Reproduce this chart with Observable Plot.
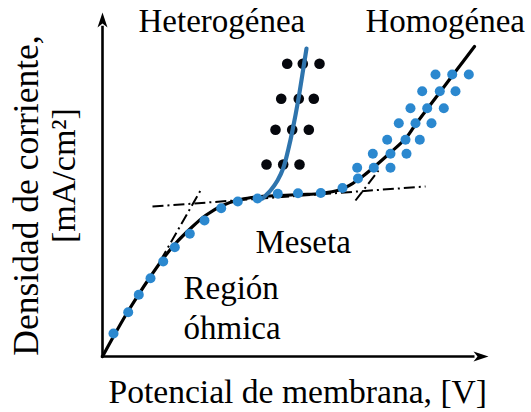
<!DOCTYPE html>
<html>
<head>
<meta charset="utf-8">
<script src="https://cdn.jsdelivr.net/npm/d3@7"></script>
<script src="https://cdn.jsdelivr.net/npm/@observablehq/plot@0.6"></script>
<style>
  html, body { margin: 0; padding: 0; background: #fff; }
  svg { display: block; overflow: visible; }
</style>
</head>
<body>
<div id="chart"></div>
<script>
// Arbitrary units (no tick values on the original axes): potential 0–100, current density 0–100
const mainDotsX = [2.85, 6.66, 9.40, 12.44, 15.73, 18.73, 22.62, 26.42, 30.75, 35.05, 40.16, 45.41, 50.65, 56.55, 62.18, 66.19];
const mainDotsY = [6.69, 12.88, 17.94, 22.76, 27.62, 31.77, 35.67, 39.53, 43.11, 45.06, 45.93, 47.30, 47.47, 47.53, 48.98, 51.74];

const homRowsY = [54.85, 58.92, 63.0, 67.82, 72.18, 77.12, 81.98];
const homRowsX = [
  [65.98, 70.28, 74.61], [70.03, 74.61, 78.76], [73.76, 78.50, 82.20], [76.76, 81.09, 85.23],
  [79.79, 84.12, 88.42], [82.82, 87.38, 91.45], [86.27, 90.60, 94.90]
];

const hetRowsY = [55.81, 65.90, 74.91, 85.09];
const hetRowsX = [[42.49, 46.81, 51.04], [44.82, 49.15, 53.45], [46.30, 50.85, 54.74], [47.85, 51.89, 56.22]];

const fitX = [0, 2.85, 5.96, 9.33, 12.44, 15.54, 18.91, 22.80, 26.68, 31.09, 35.75, 40.93, 46.11, 51.30, 56.48, 61.66, 64.77, 67.36, 70.21, 74.61, 78.50, 81.09, 84.20, 87.56, 91.45, 96.37];
const fitY = [0, 5.81, 11.92, 18.02, 23.26, 28.20, 32.85, 37.21, 40.99, 43.90, 45.64, 46.51, 46.80, 47.09, 47.38, 48.55, 50.29, 52.33, 54.94, 59.30, 63.37, 67.44, 72.09, 77.03, 82.85, 90.12];

const hetLineX = [41.45, 43.52, 45.34, 46.89, 48.19, 49.22, 50.78, 52.07, 52.85];
const hetLineY = [45.93, 48.26, 51.16, 54.94, 60.47, 65.70, 75.0, 84.01, 89.53];

const tangentNames = ["ohmic", "plateau", "homog"];
const tangentX1 = [15.03, 12.95, 65.54];
const tangentY1 = [27.91, 43.60, 45.35];
const tangentX2 = [25.39, 83.68, 71.50];
const tangentY2 = [48.26, 49.42, 54.07];

const labels = ["Heterogénea", "Homogénea", "Meseta", "Región", "óhmica"];
const labelX = [9.33, 68.13, 39.64, 20.98, 20.98];
const labelY = [94.19, 94.19, 30.23, 16.86, 5.23];

const xTitle = "Potencial de membrana, [V]";
const yTitle1 = "Densidad de corriente,";
const yTitle2 = "[mA/cm²]";

// build tables
const mainDots = mainDotsX.map((x, i) => ({x, y: mainDotsY[i]}));
const homDots = homRowsY.flatMap((y, r) => homRowsX[r].map(x => ({x, y})));
const hetDots = hetRowsY.flatMap((y, r) => hetRowsX[r].map(x => ({x, y})));
const fit = fitX.map((x, i) => ({x, y: fitY[i]}));
const hetLine = hetLineX.map((x, i) => ({x, y: hetLineY[i]}));
const tangents = tangentNames.map((n, i) => ({n, x1: tangentX1[i], y1: tangentY1[i], x2: tangentX2[i], y2: tangentY2[i]}));
const labelData = labels.map((t, i) => ({t, x: labelX[i], y: labelY[i]}));

const arrowHead = {
  draw(ctx) {
    ctx.moveTo(0, 0);
    ctx.lineTo(5, 15);
    ctx.lineTo(0, 11);
    ctx.lineTo(-5, 15);
    ctx.closePath();
  }
};

const FONT = "Liberation Serif";
const BLUE = "#2b88cf";
const BLUE_LINE = "#2e74ad";

const chart = Plot.plot({
  width: 531,
  height: 412,
  marginLeft: 102,
  marginRight: 43,
  marginTop: 12,
  marginBottom: 56,
  x: {domain: [0, 100], axis: null},
  y: {domain: [0, 100], axis: null},
  marks: [
    // axes
    Plot.ruleX([0], {y1: 0, y2: 96, stroke: "#000", strokeWidth: 2.6}),
    Plot.ruleY([0], {x1: -0.3, x2: 96.5, stroke: "#000", strokeWidth: 2.6}),
    Plot.dot([{x: 0, y: 100}], {x: "x", y: "y", symbol: arrowHead, r: 1, fill: "#000", stroke: "none"}),
    Plot.dot([{x: 100, y: 0}], {x: "x", y: "y", symbol: arrowHead, r: 1, fill: "#000", stroke: "none", rotate: 90}),
    // dash-dot construction lines
    Plot.link(tangents, {x1: "x1", y1: "y1", x2: "x2", y2: "y2", stroke: "#000", strokeWidth: 2, strokeDasharray: "11,4,2,4"}),
    // fitted black curve
    Plot.line(fit, {x: "x", y: "y", curve: "catmull-rom", stroke: "#000", strokeWidth: 3.2}),
    // heterogeneous black dots
    Plot.dot(hetDots, {x: "x", y: "y", r: 5.3, fill: "#05070d", stroke: "none"}),
    // heterogeneous blue curve
    Plot.line(hetLine, {x: "x", y: "y", curve: "catmull-rom", stroke: BLUE_LINE, strokeWidth: 4.2}),
    // blue measured dots
    Plot.dot(mainDots, {x: "x", y: "y", r: 5, fill: BLUE, stroke: "none"}),
    Plot.dot(homDots, {x: "x", y: "y", r: 5, fill: BLUE, stroke: "none"}),
    // annotations
    Plot.text(labelData, {x: "x", y: "y", text: "t", textAnchor: "start", lineAnchor: "bottom", fontSize: 33, fontFamily: FONT, fill: "#000"}),
    // axis titles
    Plot.text([xTitle], {x: 1.55, y: -13.4, text: d => d, textAnchor: "start", lineAnchor: "bottom", fontSize: 33.6, fontFamily: FONT, fill: "#000"}),
    Plot.text([yTitle1], {x: -16.8, y: 46.8, text: d => d, rotate: -90, textAnchor: "middle", lineAnchor: "bottom", fontSize: 35.5, fontFamily: FONT, fill: "#000"}),
    Plot.text([yTitle2], {x: -7.0, y: 52.6, text: d => d, rotate: -90, textAnchor: "middle", lineAnchor: "bottom", fontSize: 34, fontFamily: FONT, fill: "#000"})
  ]
});

document.getElementById("chart").appendChild(chart);
</script>
</body>
</html>
